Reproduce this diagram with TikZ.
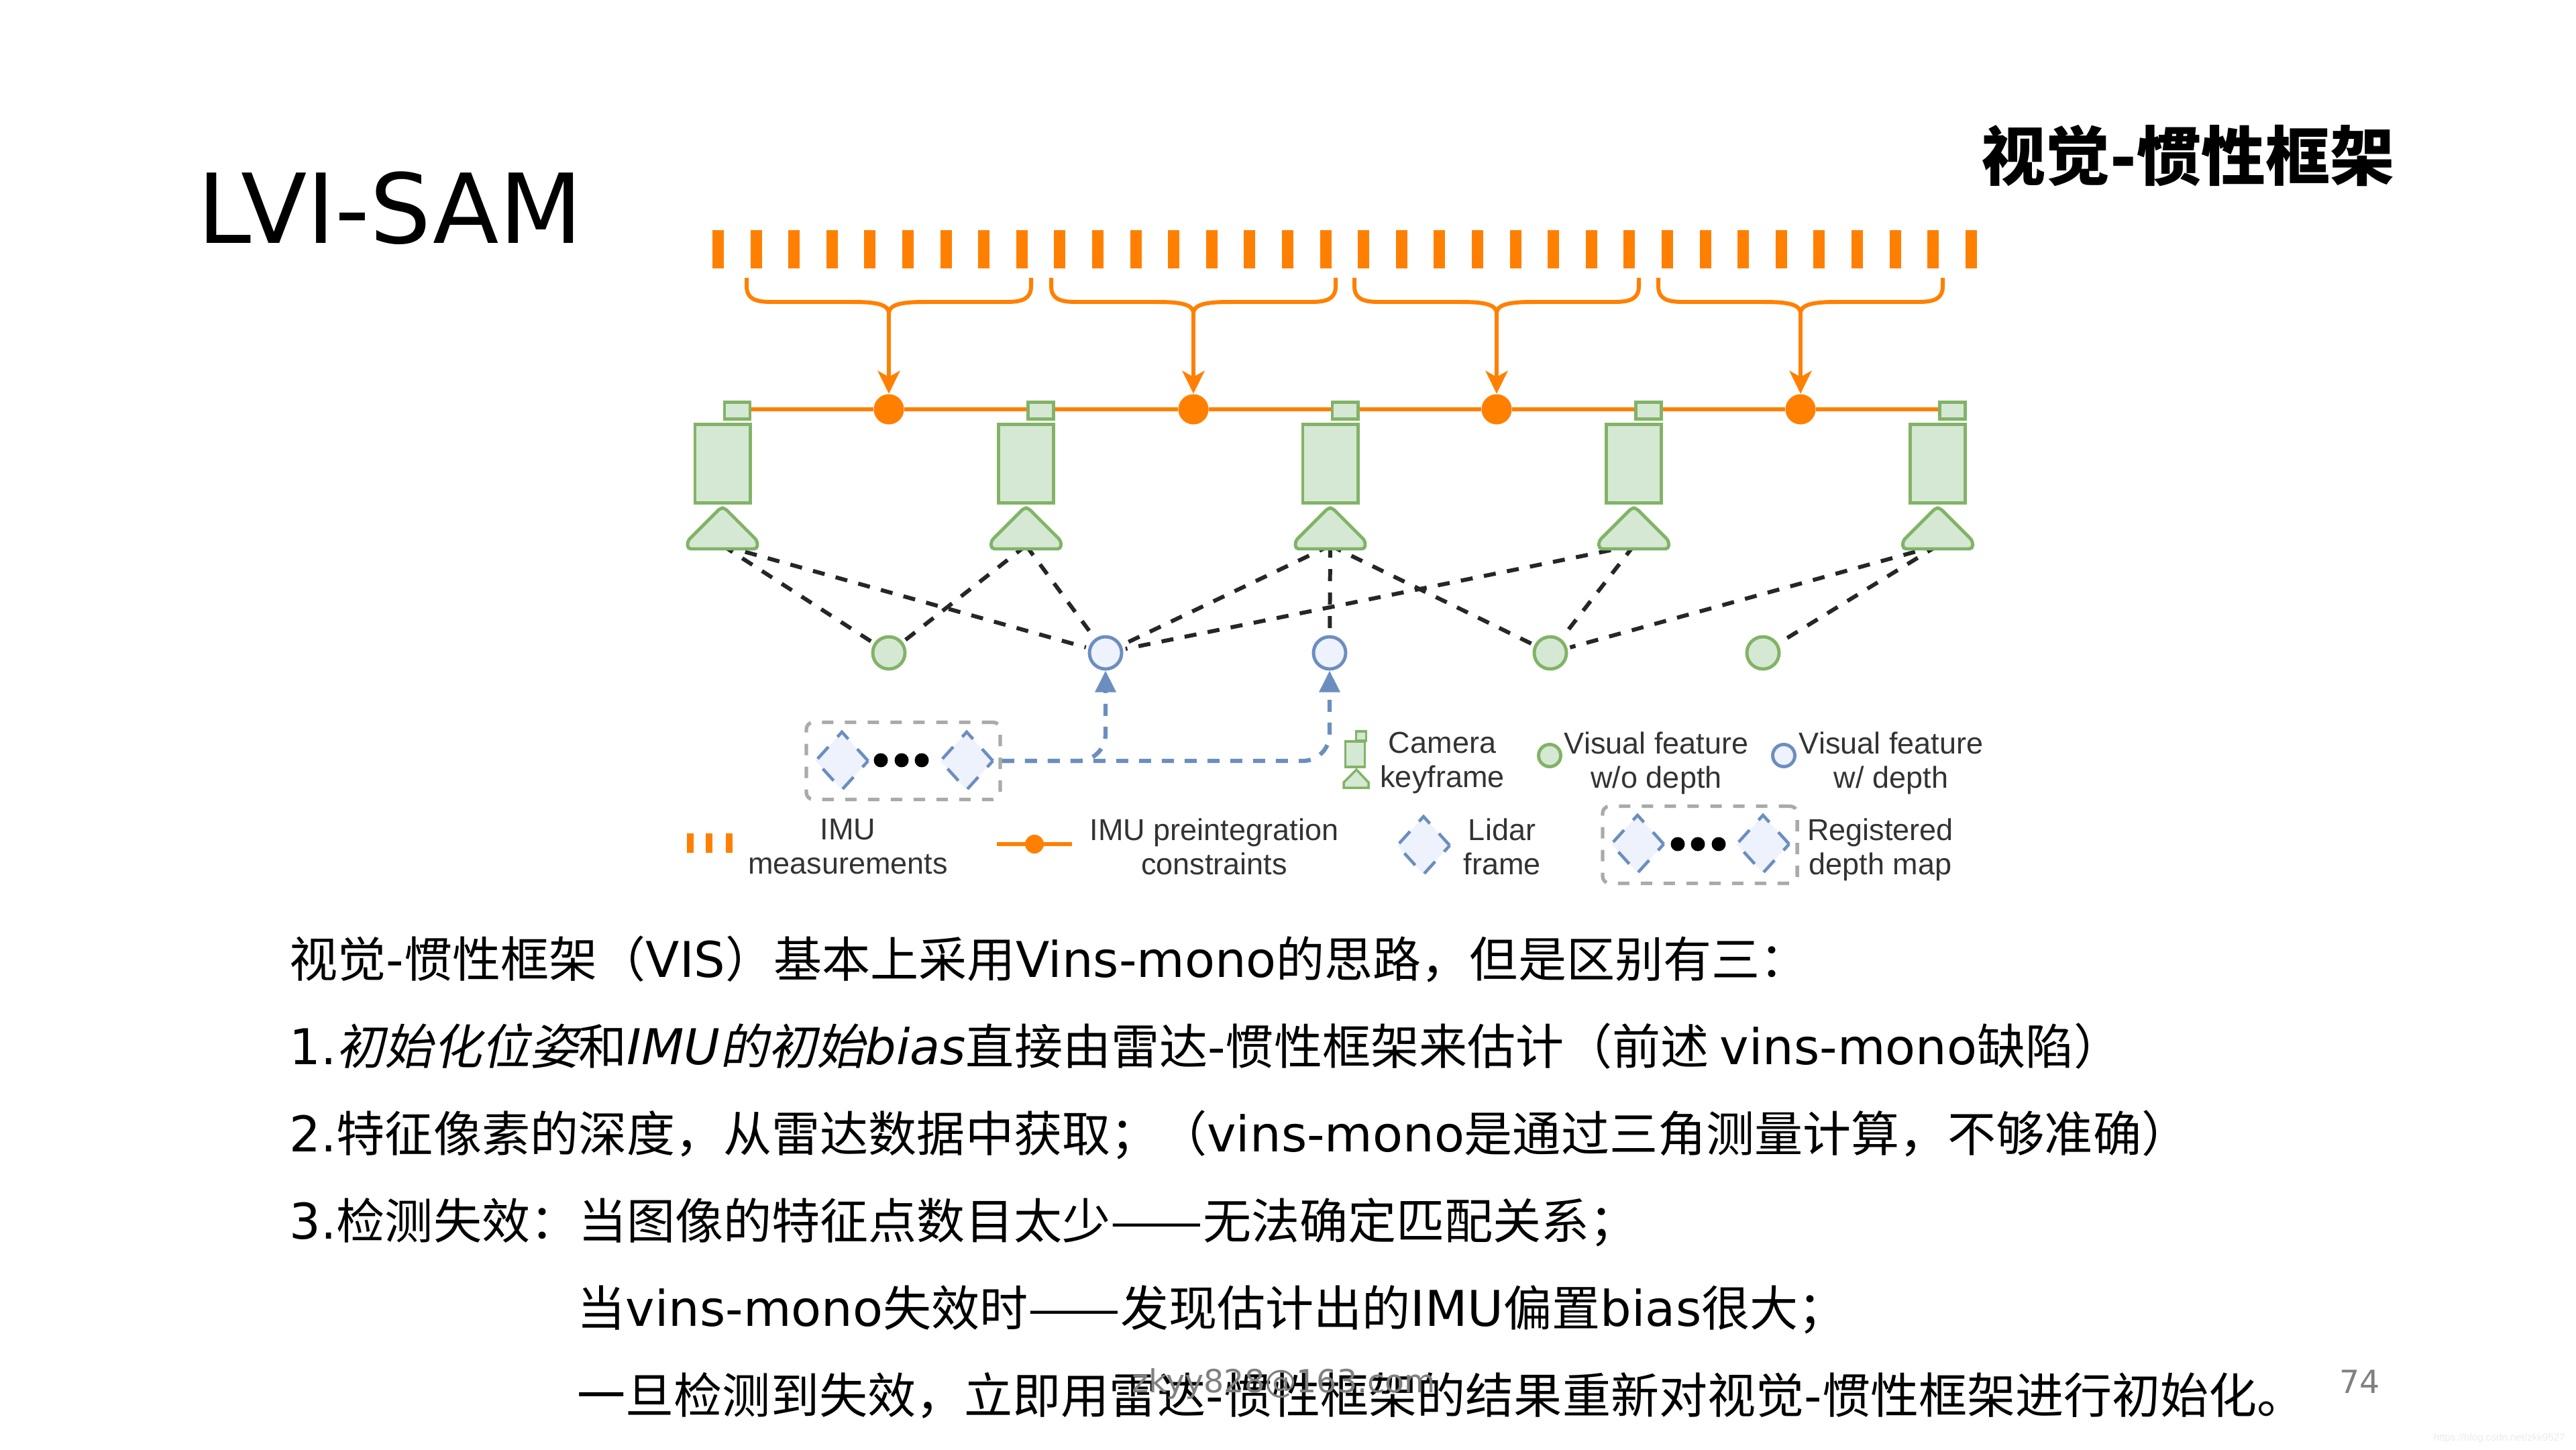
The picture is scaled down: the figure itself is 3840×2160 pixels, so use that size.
\documentclass[tikz,border=0pt]{standalone}
\usepackage{fontspec}
\usetikzlibrary{arrows.meta,shapes.geometric}
\setmainfont{DejaVu Sans}
\newfontfamily\cjk{Noto Sans CJK SC}
\newfontfamily\cjkslant[FakeSlant=0.2]{Noto Sans CJK SC}
\newfontfamily\legendfont{Liberation Sans}
\newcommand{\la}[1]{{\rmfamily\fontsize{20.9pt}{24pt}\selectfont #1}}
\newcommand{\lait}[1]{{\rmfamily\itshape\fontsize{20.9pt}{24pt}\selectfont #1}}
\newcommand{\longdash}{\scalebox{1.14}[1]{——}}
\definecolor{imuorange}{HTML}{FF8000}
\definecolor{greenfill}{HTML}{D5E8D4}
\definecolor{greenline}{HTML}{82B366}
\definecolor{bluefill}{HTML}{EDF2FC}
\definecolor{blueline}{HTML}{6C8EBF}
\definecolor{mapgray}{HTML}{AAAAAA}
\tikzset{
	imuline/.style={color=imuorange,line width=1.7pt},
	imudot/.style={circle,fill=imuorange,inner sep=0pt,minimum size=#1},
	camgreen/.style={draw=greenline,fill=greenfill,line width=1.4pt},
	cambox/.style={camgreen,rectangle,inner sep=0pt},
	featgreen/.style={camgreen,circle,inner sep=0pt,minimum size=#1},
	featblue/.style={draw=blueline,fill=bluefill,line width=1.4pt,circle,inner sep=0pt,minimum size=#1},
	seenline/.style={color=black!85,line width=1.7pt,dash pattern=on 0.18cm off 0.17cm,shorten >=0.04cm},
	lidarline/.style={color=blueline,line width=1.8pt,dash pattern=on 0.18cm off 0.16cm,rounded corners=0.4cm,-{Stealth[length=0.32cm,width=0.3cm,inset=0pt]}},
	lidarframe/.style={diamond,aspect=1,inner sep=0pt,draw=blueline,fill=bluefill,line width=1.3pt,dash pattern=on 0.24cm off 0.2cm,minimum width=0.8cm,minimum height=0.88cm},
	mapbox/.style={draw=mapgray,line width=1.5pt,dash pattern=on 0.17cm off 0.17cm,rounded corners=3pt,inner sep=0pt,minimum width=#1,minimum height=1.15cm},
	mapdot/.style={circle,fill=black,inner sep=0pt,minimum size=0.21cm},
	legend/.style={font=\legendfont\fontsize{12.8pt}{14.5pt}\selectfont,color=black!80,align=center,inner sep=0pt},
	bodytext/.style={anchor=base west,inner sep=0pt,font=\cjk\fontsize{20.5pt}{24pt}\selectfont}
}
\begin{document}
\begin{tikzpicture}[x=0.01cm,y=-0.01cm]
	\useasboundingbox (0,0) rectangle (3840,2160);
	\node[anchor=base west,inner sep=0pt,font=\fontsize{40.9pt}{46pt}\selectfont] (title) at (294,362) {LVI-SAM};
	\node[anchor=base west,inner sep=0pt,font=\cjk\bfseries\fontsize{27.3pt}{32pt}\selectfont] (subtitle) at (2953,268) {视觉{\rmfamily\bfseries -}惯性框架};
	\foreach \i in {0,...,33}
		\fill[imuorange] ({1062+\i*56.6},343) rectangle ++(17,57);
	\foreach \k/\x in {1/1325,2/1779,3/2231,4/2684} {
		\node[imudot=0.45cm] (c\k) at (\x,610) {};
		\coordinate (j\k) at (\x,467);
		\draw[imuline] ({\x-212},414) -- ({\x-212},426) .. controls ({\x-212},445) and ({\x-200},450) .. ({\x-175},450) -- ({\x-55},450) .. controls ({\x-25},450) and (\x,452) .. (j\k) .. controls (\x,452) and ({\x+25},450) .. ({\x+55},450) -- ({\x+175},450) .. controls ({\x+200},450) and ({\x+212},445) .. ({\x+212},426) -- ({\x+212},414);
		\draw[imuline,-{Stealth[length=0.34cm,width=0.33cm,inset=0.09cm]}] (j\k) -- (c\k.north);
	}
	\foreach \k/\x in {1/1077,2/1529.5,3/1983,4/2435.5,5/2888.5} {
		\node[cambox,minimum width=0.38cm,minimum height=0.25cm] (sq\k) at ({\x+22},612) {};
		\node[cambox,minimum width=0.82cm,minimum height=1.17cm] (cam\k) at (\x,691) {};
		\coordinate (tri\k) at (\x,813);
	}
	\draw[imuline] (sq1.east |- c1) -- (c1) -- (sq2.west |- c1);
	\draw[imuline] (sq2.east |- c1) -- (c2) -- (sq3.west |- c1);
	\draw[imuline] (sq3.east |- c1) -- (c3) -- (sq4.west |- c1);
	\draw[imuline] (sq4.east |- c1) -- (c4) -- (sq5.west |- c1);
	\node[featgreen=0.48cm] (g1) at (1325,973) {};
	\node[featblue=0.48cm] (b1) at (1648,973) {};
	\node[featblue=0.48cm] (b2) at (1982,973) {};
	\node[featgreen=0.48cm] (g2) at (2311,973) {};
	\node[featgreen=0.48cm] (g3) at (2628,973) {};
	\draw[seenline] (tri1) -- (g1);
	\draw[seenline] (tri1) -- (b1);
	\draw[seenline] (tri2) -- (g1);
	\draw[seenline] (tri2) -- (b1);
	\draw[seenline] (tri3) -- (b1);
	\draw[seenline] (tri3) -- (b2);
	\draw[seenline] (tri3) -- (g2);
	\draw[seenline] (tri4) -- (b1);
	\draw[seenline] (tri4) -- (g2);
	\draw[seenline] (tri5) -- (g2);
	\draw[seenline] (tri5) -- (g3);
	\foreach \x in {1077,1529.5,1983,2435.5,2888.5}
		\draw[camgreen,rounded corners=0.05cm] ({\x-3},757) -- ({\x+3},757) -- ({\x+52},806) -- ({\x+52},818) -- ({\x-52},818) -- ({\x-52},806) -- cycle;
	\node[mapbox=2.89cm] (map) at (1346.5,1134) {};
	\node[lidarframe] (f1) at (1255,1134) {};
	\node[lidarframe] (f2) at (1441,1134) {};
	\foreach \x in {1313,1344,1374}
		\node[mapdot] at (\x,1133) {};
	\draw[lidarline] (map.east) -| (b1.south);
	\draw[lidarline] (map.east) -| (b2.south);
	\foreach \x in {1024,1052,1082}
		\fill[imuorange] (\x,1242) rectangle ++(10,29);
	\node[legend] (imutext) at (1264,1262) {IMU\\measurements};
	\coordinate (legl) at (1486,1258);
	\coordinate (legr) at (1598,1258);
	\draw[imuline] (legl) -- (legr);
	\node[imudot=0.28cm] (legc) at (1542,1258) {};
	\node[legend] (pretext) at (1810,1262) {IMU preintegration\\constraints};
	\node[cambox,minimum width=0.29cm,minimum height=0.38cm,line width=1pt] (legcam) at (2020,1124) {};
	\node[cambox,minimum width=0.15cm,minimum height=0.14cm,line width=1pt] (legsq) at (2029,1097) {};
	\draw[camgreen,line width=1pt] (2022,1147) -- (2040,1166) -- (2040,1174) -- (2003,1174) -- (2003,1166) -- cycle;
	\node[legend] (camtext) at (2150,1137) {Camera\\keyframe};
	\node[featgreen=0.33cm] (leggreen) at (2310,1126) {};
	\node[legend] (greentext) at (2469,1137) {Visual feature\\w/o depth};
	\node[featblue=0.33cm] (legblue) at (2659,1126) {};
	\node[legend] (bluetext) at (2819,1137) {Visual feature\\w/ depth};
	\node[lidarframe] (legf) at (2122,1260) {};
	\node[legend] (lidartext) at (2239,1262) {Lidar\\frame};
	\node[mapbox=2.9cm] (legmap) at (2534,1259) {};
	\node[lidarframe] (legf1) at (2441,1258) {};
	\node[lidarframe] (legf2) at (2628,1258) {};
	\foreach \x in {2501,2531,2562}
		\node[mapdot] at (\x,1258) {};
	\node[legend] (maptext) at (2803,1266) {Registered\\depth map};
	\node[bodytext] (l1) at (431,1456) {视觉\la{-}惯性框架（\la{VIS}）基本上采用\la{Vins-mono}的思路，但是区别有三：};
	\node[bodytext] (l2) at (431,1586) {\la{1.}{\cjkslant 初始化位姿}和\lait{IMU}{\cjkslant 的初始}\lait{bias}直接由雷达\la{-}惯性框架来估计（前述 \la{vins-mono}缺陷）};
	\node[bodytext] (l3) at (431,1716) {\la{2.}特征像素的深度，从雷达数据中获取；（\la{vins-mono}是通过三角测量计算，不够准确）};
	\node[bodytext] (l4) at (431,1846) {\la{3.}检测失效：当图像的特征点数目太少\longdash 无法确定匹配关系；};
	\node[bodytext] (l5) at (860,1976) {当\la{vins-mono}失效时\longdash 发现估计出的\la{IMU}偏置\la{bias}很大；};
	\node[bodytext] (l6) at (860,2106) {一旦检测到失效，立即用雷达\la{-}惯性框架的结果重新对视觉\la{-}惯性框架进行初始化。};
	\node[anchor=base west,inner sep=0pt,color=black!50,font=\fontsize{13.5pt}{16pt}\selectfont] (mail) at (1687,2075) {zkyy828@163.com};
	\node[anchor=base west,inner sep=0pt,color=black!50,font=\fontsize{13.5pt}{16pt}\selectfont] (page) at (3487,2076) {74};
	\node[anchor=base west,inner sep=0pt,color=black!8,font=\legendfont\fontsize{4.3pt}{5pt}\selectfont] (url) at (3627,2147) {https://blog.csdn.net/zkk9527};
\end{tikzpicture}
\end{document}
